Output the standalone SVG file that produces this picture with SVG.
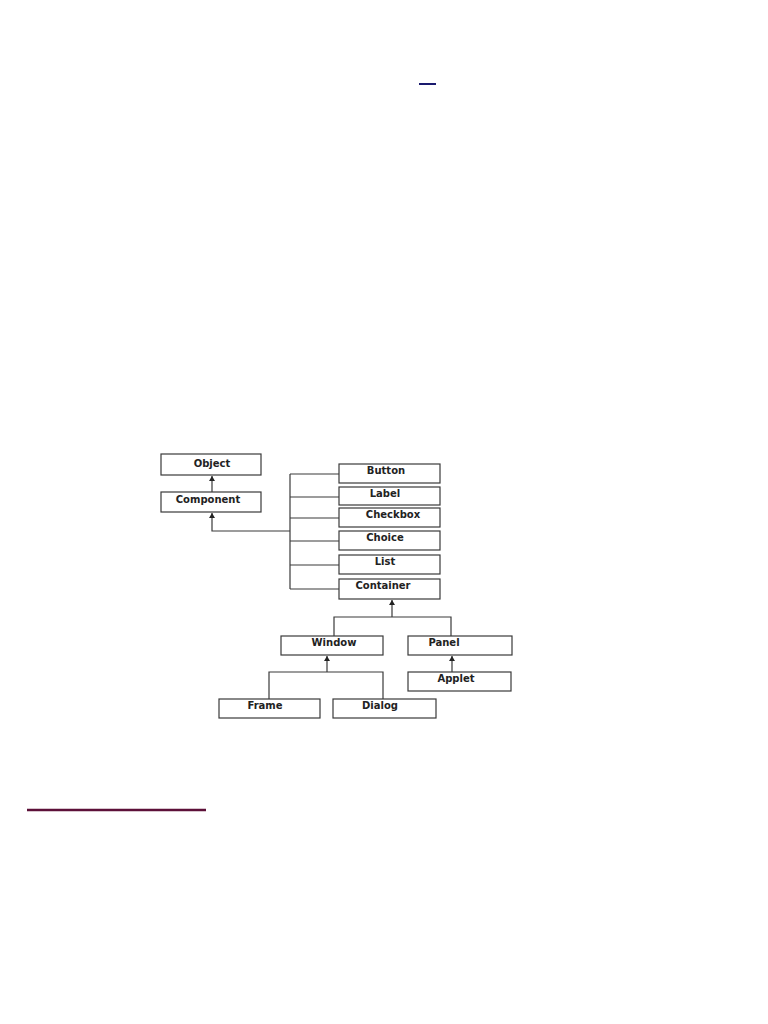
<svg xmlns="http://www.w3.org/2000/svg" width="768" height="1024" viewBox="0 0 768 1024">
<style>
.box{fill:#fff;stroke:#3a3a3a;stroke-width:1.2}
.lbl{font-family:"DejaVu Sans",Verdana,sans-serif;font-weight:bold;font-size:10px;fill:#222;text-anchor:middle}
.ln{fill:none;stroke:#3a3a3a;stroke-width:1.2}
.arr{marker-end:url(#ah)}
</style>
<defs>
<marker id="ah" markerWidth="6" markerHeight="6" refX="5" refY="3" orient="auto" markerUnits="userSpaceOnUse">
<path d="M0,0 L5,3 L0,6 Z" fill="#222"/>
</marker>
</defs>
<rect width="768" height="1024" fill="#fff"/>
<line x1="419" y1="84" x2="436" y2="84" stroke="#1a1a6e" stroke-width="2"/>
<line x1="27" y1="810" x2="206" y2="810" stroke="#5c1038" stroke-width="2.5"/>
<g id="connectors">
<path class="ln arr" d="M212,492 L212,476"/>
<path class="ln arr" d="M290,531 L212,531 L212,513"/>
<path class="ln" d="M290,474 L290,589"/>
<path class="ln" d="M290,474 H339 M290,497 H339 M290,518 H339 M290,541 H339 M290,565 H339 M290,589 H339"/>
<path class="ln arr" d="M392,617 L392,600"/>
<path class="ln" d="M334,636 L334,617 L451,617 L451,636"/>
<path class="ln arr" d="M327,672 L327,656"/>
<path class="ln" d="M269,699 L269,672 L383,672 L383,699"/>
<path class="ln arr" d="M452,672 L452,656"/>
</g>
<g id="object"><rect class="box" x="161" y="454" width="100" height="21"/><text class="lbl" x="212" y="467">Object</text></g>
<g id="component"><rect class="box" x="161" y="492" width="100" height="20"/><text class="lbl" x="208" y="503">Component</text></g>
<g id="button"><rect class="box" x="339" y="464" width="101" height="19"/><text class="lbl" x="386" y="474">Button</text></g>
<g id="label"><rect class="box" x="339" y="487" width="101" height="18"/><text class="lbl" x="385" y="497">Label</text></g>
<g id="checkbox"><rect class="box" x="339" y="508" width="101" height="19"/><text class="lbl" x="393" y="518">Checkbox</text></g>
<g id="choice"><rect class="box" x="339" y="531" width="101" height="19"/><text class="lbl" x="385" y="541">Choice</text></g>
<g id="list"><rect class="box" x="339" y="555" width="101" height="19"/><text class="lbl" x="385" y="565">List</text></g>
<g id="container"><rect class="box" x="339" y="579" width="101" height="20"/><text class="lbl" x="383" y="589">Container</text></g>
<g id="window"><rect class="box" x="281" y="636" width="102" height="19"/><text class="lbl" x="334" y="646">Window</text></g>
<g id="panel"><rect class="box" x="408" y="636" width="104" height="19"/><text class="lbl" x="444" y="646">Panel</text></g>
<g id="applet"><rect class="box" x="408" y="672" width="103" height="19"/><text class="lbl" x="456" y="682">Applet</text></g>
<g id="frame"><rect class="box" x="219" y="699" width="101" height="19"/><text class="lbl" x="265" y="709">Frame</text></g>
<g id="dialog"><rect class="box" x="333" y="699" width="103" height="19"/><text class="lbl" x="380" y="709">Dialog</text></g>
</svg>
